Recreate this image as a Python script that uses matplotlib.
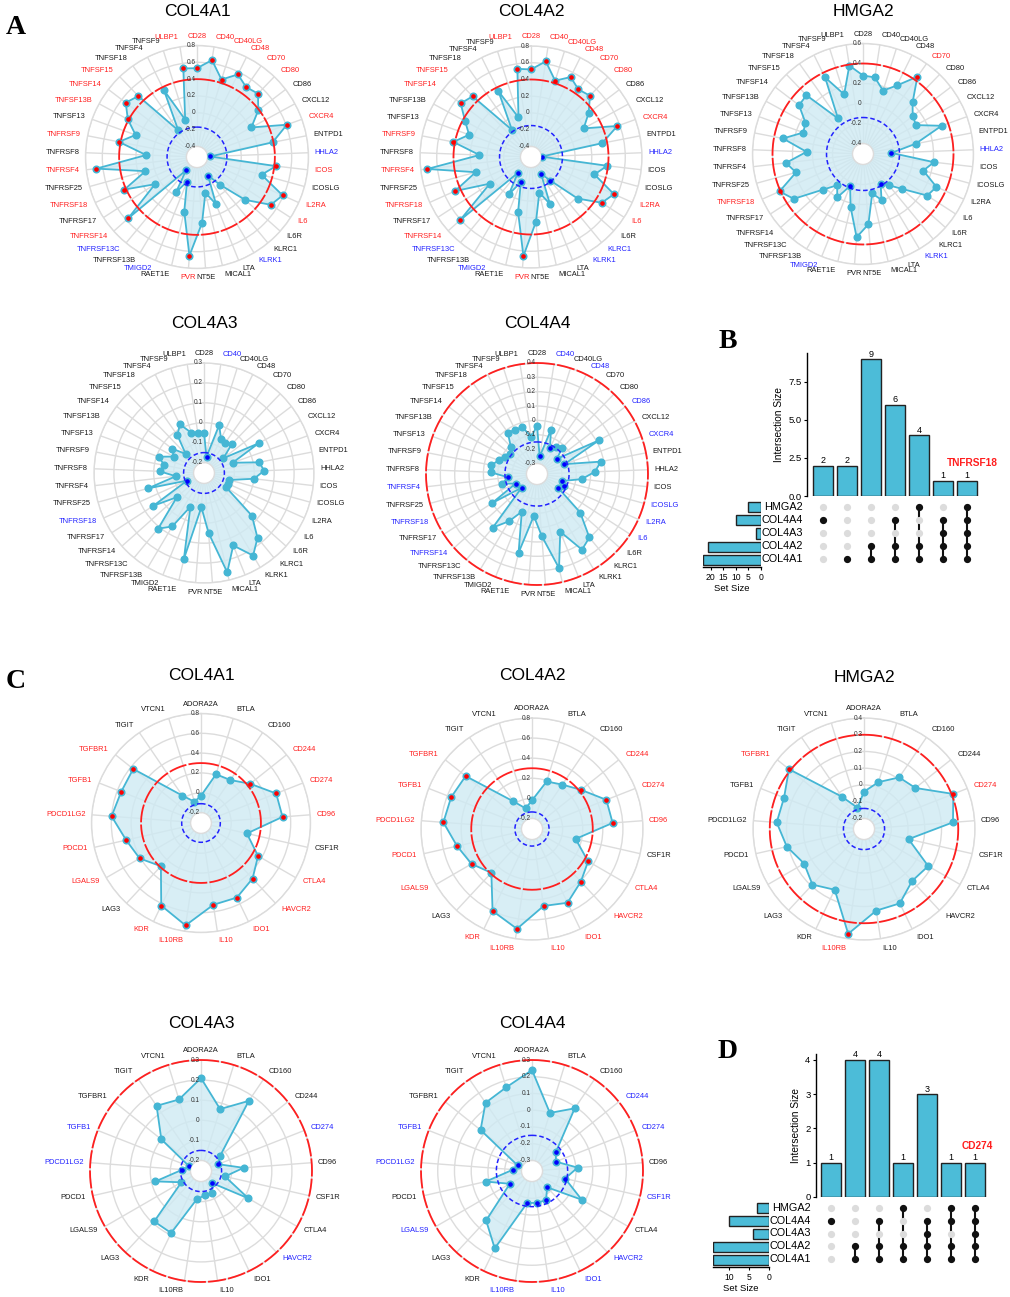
import matplotlib
matplotlib.use('Agg')
import matplotlib.pyplot as plt
import matplotlib.transforms as mtransforms
import numpy as np

plt.rcParams['font.family'] = ['Liberation Sans', 'DejaVu Sans']

# ---------------- data ----------------
stim_genes = ['CD28', 'CD40', 'CD40LG', 'CD48', 'CD70', 'CD80', 'CD86', 'CXCL12', 'CXCR4',
              'ENTPD1', 'HHLA2', 'ICOS', 'ICOSLG', 'IL2RA', 'IL6', 'IL6R', 'KLRC1', 'KLRK1',
              'LTA', 'MICAL1', 'NT5E', 'PVR', 'RAET1E', 'TMIGD2', 'TNFRSF13B', 'TNFRSF13C',
              'TNFRSF14', 'TNFRSF17', 'TNFRSF18', 'TNFRSF25', 'TNFRSF4', 'TNFRSF8', 'TNFRSF9',
              'TNFSF13', 'TNFSF13B', 'TNFSF14', 'TNFSF15', 'TNFSF18', 'TNFSF4', 'TNFSF9', 'ULBP1']

col4a1_stim = [0.53, 0.64, 0.44, 0.57, 0.49, 0.52, 0.39, 0.21, 0.61, 0.39, -0.37, 0.42, 0.27, 0.59,
               0.52, 0.24, -0.10, -0.27, 0.08, -0.09, 0.26, 0.65, 0.14, -0.21, -0.04, -0.32, 0.57,
               0.07, 0.42, 0.11, 0.68, 0.08, 0.42, 0.25, 0.41, 0.54, 0.48, -0.14, 0.36, -0.06, 0.54]
col4a2_stim = [0.52, 0.63, 0.43, 0.54, 0.46, 0.49, 0.34, 0.19, 0.57, 0.34, -0.40, 0.39, 0.26, 0.56,
               0.48, 0.22, -0.16, -0.29, 0.08, -0.09, 0.25, 0.66, 0.15, -0.20, -0.01, -0.28, 0.61,
               0.06, 0.47, 0.16, 0.72, 0.09, 0.42, 0.26, 0.37, 0.53, 0.48, -0.13, 0.35, -0.03, 0.54]
hmga2_stim = [0.28, 0.27, 0.16, 0.26, 0.44, 0.21, 0.12, 0.10, 0.33, 0.03, -0.22, 0.21, 0.12, 0.30,
              0.26, 0.02, -0.10, -0.16, -0.01, -0.10, 0.20, 0.33, 0.04, -0.16, 0.00, -0.10, 0.03,
              0.32, 0.41, 0.19, 0.27, 0.06, 0.31, 0.13, 0.15, 0.30, 0.31, -0.07, 0.35, 0.12, 0.39]
col4a3_stim = [-0.05, -0.17, 0.00, -0.06, -0.07, -0.05, -0.13, 0.06, -0.10, 0.03, 0.05, 0.00, -0.12,
               -0.12, -0.12, 0.07, 0.17, 0.23, 0.14, 0.26, 0.05, -0.08, 0.19, -0.07, 0.06, 0.11,
               -0.07, 0.05, -0.16, 0.04, -0.11, -0.03, -0.05, -0.01, -0.08, -0.05, -0.12, -0.02,
               0.02, -0.04, -0.05]
col4a4_stim = [-0.04, -0.25, -0.05, -0.17, -0.14, -0.12, -0.20, 0.12, -0.17, 0.08, 0.03, -0.06, -0.19,
               -0.17, -0.20, 0.03, 0.20, 0.24, 0.06, 0.30, 0.06, -0.08, 0.19, -0.09, 0.01, 0.11,
               -0.23, 0.00, -0.21, -0.12, -0.17, -0.05, -0.05, -0.09, -0.12, -0.14, -0.11, -0.02,
               -0.03, -0.03, -0.11]

inhib_genes = ['ADORA2A', 'BTLA', 'CD160', 'CD244', 'CD274', 'CD96', 'CSF1R', 'CTLA4', 'HAVCR2',
               'IDO1', 'IL10', 'IL10RB', 'KDR', 'LAG3', 'LGALS9', 'PDCD1', 'PDCD1LG2', 'TGFB1',
               'TGFBR1', 'TIGIT', 'VTCN1']

col4a1_inhib = [-0.03, 0.21, 0.22, 0.33, 0.51, 0.52, 0.17, 0.36, 0.46, 0.53, 0.53, 0.74, 0.62, 0.29,
                0.41, 0.47, 0.60, 0.56, 0.57, 0.03, -0.08]
col4a2_inhib = [-0.02, 0.19, 0.23, 0.32, 0.49, 0.50, 0.14, 0.34, 0.41, 0.51, 0.47, 0.70, 0.60, 0.29,
                0.39, 0.46, 0.58, 0.56, 0.54, 0.03, -0.09]
hmga2_inhib = [-0.04, 0.03, 0.11, 0.13, 0.31, 0.27, 0.01, 0.18, 0.16, 0.23, 0.23, 0.37, 0.14, 0.19,
               0.15, 0.21, 0.26, 0.25, 0.31, -0.03, -0.13]
col4a3_inhib = [0.21, 0.07, 0.17, -0.13, -0.16, -0.04, -0.13, 0.02, -0.17, -0.13, -0.13, -0.11, 0.09,
                0.09, -0.14, -0.02, -0.16, -0.19, 0.00, 0.14, 0.12]
col4a4_inhib = [0.24, 0.00, 0.09, -0.18, -0.21, -0.09, -0.16, -0.02, -0.23, -0.17, -0.17, -0.17, 0.15,
                0.04, -0.21, -0.08, -0.25, -0.27, 0.03, 0.13, 0.16]

# radial axis ranges and cut-offs (red = positive, blue = negative)
stim_rmin = [-0.4, -0.4, -0.4, -0.2, -0.3]
stim_rmax = [0.8, 0.8, 0.6, 0.3, 0.4]
stim_step = [0.2, 0.2, 0.2, 0.1, 0.1]
stim_pos_cut = [0.4, 0.4, 0.4, 0.4, 0.4]
stim_neg_cut = [-0.17, -0.15, -0.14, -0.15, -0.15]

inhib_rmin = [-0.2, -0.2, -0.2, -0.2, -0.3]
inhib_rmax = [0.8, 0.8, 0.4, 0.3, 0.3]
inhib_step = [0.2, 0.2, 0.1, 0.1, 0.1]
inhib_pos_cut = [0.3, 0.3, 0.3, 0.3, 0.3]
inhib_neg_cut = [-0.11, -0.135, -0.14, -0.15, -0.15]

set_names = ['HMGA2', 'COL4A4', 'COL4A3', 'COL4A2', 'COL4A1']
stim_set_sizes = [5, 10, 2, 21, 23]
stim_inter_sizes = [2, 2, 9, 6, 4, 1, 1]
stim_inter_sets = [['COL4A4'], ['COL4A1'], ['COL4A2', 'COL4A1'],
                   ['COL4A4', 'COL4A2', 'COL4A1'], ['HMGA2', 'COL4A2', 'COL4A1'],
                   ['COL4A4', 'COL4A3', 'COL4A2', 'COL4A1'],
                   ['HMGA2', 'COL4A4', 'COL4A3', 'COL4A2', 'COL4A1']]
inhib_set_sizes = [3, 10, 4, 14, 14]
inhib_inter_sizes = [1, 4, 4, 1, 3, 1, 1]
inhib_inter_sets = [['COL4A4'], ['COL4A2', 'COL4A1'], ['COL4A4', 'COL4A2', 'COL4A1'],
                    ['HMGA2', 'COL4A2', 'COL4A1'], ['COL4A4', 'COL4A3', 'COL4A2', 'COL4A1'],
                    ['HMGA2', 'COL4A4', 'COL4A2', 'COL4A1'],
                    ['HMGA2', 'COL4A4', 'COL4A3', 'COL4A2', 'COL4A1']]

# ---------------- style ----------------
W, H = 1010, 1297
HOLE = 0.095
GRID = '#dcdcdc'
LINE = '#45b6d4'
FILL = '#cfeaf3'
BAR = '#4cbcd8'
RED = '#ff1f1f'
BLUE = '#2222ff'

fig = plt.figure(figsize=(W / 100, H / 100), dpi=100)


def px_axes(x0, y0, x1, y1, **kw):
    return fig.add_axes([x0 / W, 1 - y1 / H, (x1 - x0) / W, (y1 - y0) / H], **kw)


def fmt(v):
    return '0' if abs(v) < 1e-9 else f'{v:g}'


def draw_radar(cx, cy, R, title, title_y, genes, vals, rmin, rmax, step, pos_cut, neg_cut):
    ax = px_axes(cx - R, cy - R, cx + R, cy + R, projection='polar')
    n = len(genes)
    vals = np.array(vals)
    theta = np.arange(n) * 2 * np.pi / n
    ax.set_theta_zero_location('N')
    ax.set_theta_direction(-1)
    ax.set_ylim(rmin, rmax)
    r0 = rmin - HOLE / (1 - HOLE) * (rmax - rmin)
    ax.set_rorigin(r0)
    ticks = np.round(np.arange(rmin, rmax + 1e-9, step), 2)
    ax.set_yticks(ticks)
    ax.set_yticklabels([])
    ax.set_xticks(theta)
    ax.set_xticklabels([])
    ax.tick_params(length=0)
    ax.grid(color=GRID, lw=1.0)
    for sp in ax.spines.values():
        sp.set_color(GRID)
        sp.set_linewidth(1.0)

    tt = np.linspace(0, 2 * np.pi, 361)
    if pos_cut <= rmax + 1e-9:
        ax.plot(tt, np.full_like(tt, pos_cut), color=RED, lw=1.3, ls=(0, (10, 1.2)),
                clip_on=False, zorder=6)
    ax.plot(tt, np.full_like(tt, neg_cut), color=BLUE, lw=1.1, ls=(0, (3, 1.8)), zorder=6)

    tc = np.append(theta, theta[0])
    vc = np.append(vals, vals[0])
    ax.fill(tc, vc, color=FILL, alpha=0.8, lw=0, zorder=2)
    ax.plot(tc, vc, color=LINE, lw=1.3, zorder=3)
    ax.plot(theta, vals, 'o', ms=4.8, color=LINE, zorder=4)
    hi = vals > pos_cut
    lo = vals < neg_cut
    ax.plot(theta[hi], vals[hi], 'o', ms=2.3, color='red', zorder=7)
    ax.plot(theta[lo], vals[lo], 'o', ms=2.3, color='blue', zorder=7)

    off = mtransforms.offset_copy(ax.transData, fig=fig, x=-1.2, y=0, units='points')
    for t in ticks:
        ax.text(0, t, fmt(t), transform=off, ha='right', va='center', fontsize=4.7,
                color='#333333', zorder=8)

    for i, g in enumerate(genes):
        s, c = np.sin(theta[i]), np.cos(theta[i])
        rpx = R + 6 + 3.5 * abs(c)
        rr = r0 + rpx / R * (rmax - r0)
        ha = 'left' if s > 0.12 else ('right' if s < -0.12 else 'center')
        col = RED if hi[i] else (BLUE if lo[i] else '#1a1a1a')
        ax.text(theta[i], rr, g, ha=ha, va='center', fontsize=5.4, color=col, clip_on=False)

    fig.text(cx / W, 1 - title_y / H, title, ha='center', va='center', fontsize=12.5)


def draw_upset(bar_px, mat_px, set_px, x_first, x_step, row_top, row_step,
               set_sizes, inter_sizes, inter_sets, bar_ymax, bar_yticks, bar_ylabels,
               set_xmax, set_xticks, label_x, hl_text, hl_xy):
    nset = len(set_names)
    ncol = len(inter_sizes)
    x0, x1 = bar_px[0], bar_px[2]
    xlim = ((x0 - x_first) / x_step, (x1 - x_first) / x_step)
    xs = np.arange(ncol)

    # intersection bars
    axb = px_axes(*bar_px)
    axb.bar(xs, inter_sizes, width=0.8, color=BAR, edgecolor='#222222', lw=1.0)
    for x, h in zip(xs, inter_sizes):
        axb.annotate(str(h), (x, h), xytext=(0, 3.5), textcoords='offset points',
                     ha='center', va='center', fontsize=6.5)
    axb.set_xlim(*xlim)
    axb.set_ylim(0, bar_ymax)
    axb.set_yticks(bar_yticks)
    axb.set_yticklabels(bar_ylabels)
    axb.set_xticks([])
    for k in ['top', 'right', 'bottom']:
        axb.spines[k].set_visible(False)
    axb.spines['left'].set_linewidth(1.0)
    axb.tick_params(axis='y', labelsize=6.8, length=2.5, width=0.8, pad=1.5)
    axb.set_ylabel('Intersection Size', fontsize=7.3, labelpad=3)

    # matrix
    bottom_k = (row_top + (nset - 1) * row_step - mat_px[3]) / row_step
    top_k = (row_top + (nset - 1) * row_step - mat_px[1]) / row_step
    axm = px_axes(*mat_px)
    axm.set_xlim(*xlim)
    axm.set_ylim(bottom_k, top_k)
    row_of = {name: nset - 1 - i for i, name in enumerate(set_names)}
    for j, members in enumerate(inter_sets):
        act = [row_of[m] for m in members]
        for k in range(nset):
            on = k in act
            axm.plot(j, k, 'o', ms=4.2, color='#111111' if on else '#dcdcdc', zorder=3)
        if len(act) > 1:
            axm.plot([j, j], [min(act), max(act)], color='#111111', lw=1.5, zorder=2)
    axm.axis('off')

    for i, name in enumerate(set_names):
        ypx = row_top + i * row_step
        fig.text(label_x / W, 1 - ypx / H, name, ha='right', va='center', fontsize=7.8)

    # set sizes
    axs = px_axes(*set_px)
    ks = [nset - 1 - i for i in range(nset)]
    axs.barh(ks, set_sizes, height=0.78, color=BAR, edgecolor='#222222', lw=1.0)
    axs.set_xlim(set_xmax, 0)
    axs.set_ylim(bottom_k, top_k)
    axs.set_yticks([])
    axs.set_xticks(set_xticks)
    for k in ['top', 'right', 'left']:
        axs.spines[k].set_visible(False)
    axs.spines['bottom'].set_linewidth(1.0)
    axs.tick_params(axis='x', labelsize=6.2, length=2.5, width=0.8, pad=1.5)
    axs.set_xlabel('Set Size', fontsize=6.8, labelpad=1.5)

    fig.text(hl_xy[0] / W, 1 - hl_xy[1] / H, hl_text, ha='center', va='center',
             fontsize=7.3, fontweight='bold', color=RED)


# ---------------- panel A ----------------
stim_vals = [col4a1_stim, col4a2_stim, hmga2_stim, col4a3_stim, col4a4_stim]
stim_titles = ['COL4A1', 'COL4A2', 'HMGA2', 'COL4A3', 'COL4A4']
stim_centers = [(197, 157, 111.5, 12), (531, 157, 111, 12), (863, 154, 110.5, 12),
                (204, 473, 110, 323), (537, 474, 111, 323)]
for k in range(5):
    cx, cy, R, ty = stim_centers[k]
    draw_radar(cx, cy, R, stim_titles[k], ty, stim_genes, stim_vals[k], stim_rmin[k],
               stim_rmax[k], stim_step[k], stim_pos_cut[k], stim_neg_cut[k])

# ---------------- panel C ----------------
inhib_vals = [col4a1_inhib, col4a2_inhib, hmga2_inhib, col4a3_inhib, col4a4_inhib]
inhib_centers = [(201, 823, 109.5, 675), (532, 829, 111, 675), (864, 829, 111, 677),
                 (201, 1171, 111, 1023), (532, 1171, 111, 1023)]
for k in range(5):
    cx, cy, R, ty = inhib_centers[k]
    draw_radar(cx, cy, R, stim_titles[k], ty, inhib_genes, inhib_vals[k], inhib_rmin[k],
               inhib_rmax[k], inhib_step[k], inhib_pos_cut[k], inhib_neg_cut[k])

# ---------------- panels B and D (upset) ----------------
draw_upset(bar_px=(807, 353, 985, 496), mat_px=(807, 500, 985, 566),
           set_px=(703, 500, 761, 567), x_first=823, x_step=24, row_top=507, row_step=13,
           set_sizes=stim_set_sizes, inter_sizes=stim_inter_sizes, inter_sets=stim_inter_sets,
           bar_ymax=9.4, bar_yticks=[0, 2.5, 5, 7.5], bar_ylabels=['0.0', '2.5', '5.0', '7.5'],
           set_xmax=23, set_xticks=[20, 15, 10, 5, 0],
           label_x=803, hl_text='TNFRSF18', hl_xy=(972, 463))

draw_upset(bar_px=(816, 1054, 990, 1197), mat_px=(816, 1200, 990, 1266),
           set_px=(713, 1200, 769, 1267), x_first=831, x_step=24, row_top=1208, row_step=12.75,
           set_sizes=inhib_set_sizes, inter_sizes=inhib_inter_sizes, inter_sets=inhib_inter_sets,
           bar_ymax=4.17, bar_yticks=[0, 1, 2, 3, 4], bar_ylabels=['0', '1', '2', '3', '4'],
           set_xmax=14, set_xticks=[10, 5, 0],
           label_x=811, hl_text='CD274', hl_xy=(977, 1146))

# ---------------- panel letters ----------------
for letter, (x, y) in {'A': (16, 27), 'B': (728, 342), 'C': (16, 682), 'D': (728, 1052)}.items():
    fig.text(x / W, 1 - y / H, letter, ha='center', va='center', fontsize=20,
             fontweight='bold', family='Liberation Serif')

fig.savefig('out.png', dpi=100, facecolor='white')
